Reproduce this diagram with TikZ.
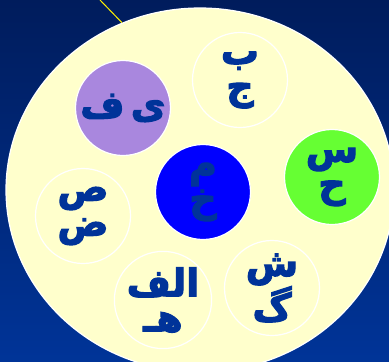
\documentclass[tikz,border=0pt]{standalone}
\usepackage{fontspec}
\usepackage{tikz}
\newfontfamily\arabicfont[Script=Arabic, FakeBold=3]{DejaVu Sans Bold}
\TeXXeTstate=1
\definecolor{navytop}{RGB}{0, 28, 92}
\definecolor{navybottom}{RGB}{0, 52, 152}
\definecolor{cream}{RGB}{255, 255, 204}
\definecolor{lavender}{RGB}{169, 135, 222}
\definecolor{lime}{RGB}{102, 255, 51}
\definecolor{ink}{RGB}{0, 51, 153}
\usetikzlibrary{shapes.geometric}

\begin{document}
\begin{tikzpicture}[
    x=1pt, y=-1pt,
    disc/.style={circle, draw=white, line width=1.2pt, fill=#1, minimum size=95pt,
                 inner sep=0pt, align=center, text=ink,
                 font=\arabicfont\fontsize{38}{35}\selectfont},
    pointer/.style={yellow, line width=1pt}
]
    % Background
    \clip (0,0) rectangle (389,362);
    \shade[top color=navytop, bottom color=navybottom] (0,0) rectangle (389,362);
    \node[ellipse, draw=white, line width=1.2pt, fill=cream, minimum width=388pt,
          minimum height=364pt, inner sep=0pt] (plate) at (200,190) {};

    % Nodes
    \node[disc=cream] (bj) at (240,80) {\beginR ب\endR\\\beginR ج\endR};
    \node[disc=lavender] (yf) at (123,108) {\beginR ی\,ف\endR};
    \node[disc=blue] (mkh) at (203,192) {\beginR م\endR\\\beginR خ\endR};
    \node[disc=lime] (sh) at (332,177) {\beginR س\endR\\\beginR ح\endR};
    \node[disc=cream] (sz) at (83,216) {\beginR ص\endR\\\beginR ض\endR};
    \node[disc=cream] (alefh) at (163,300) {\beginR الف\endR\\\beginR هـ\endR};
    \node[disc=cream] (shg) at (272,288) {\beginR ش\endR\\\beginR گ\endR};

    % Pointer
    \coordinate (tip) at (100,0);
    \draw[pointer] (tip) -- (plate.115);
\end{tikzpicture}
\end{document}
